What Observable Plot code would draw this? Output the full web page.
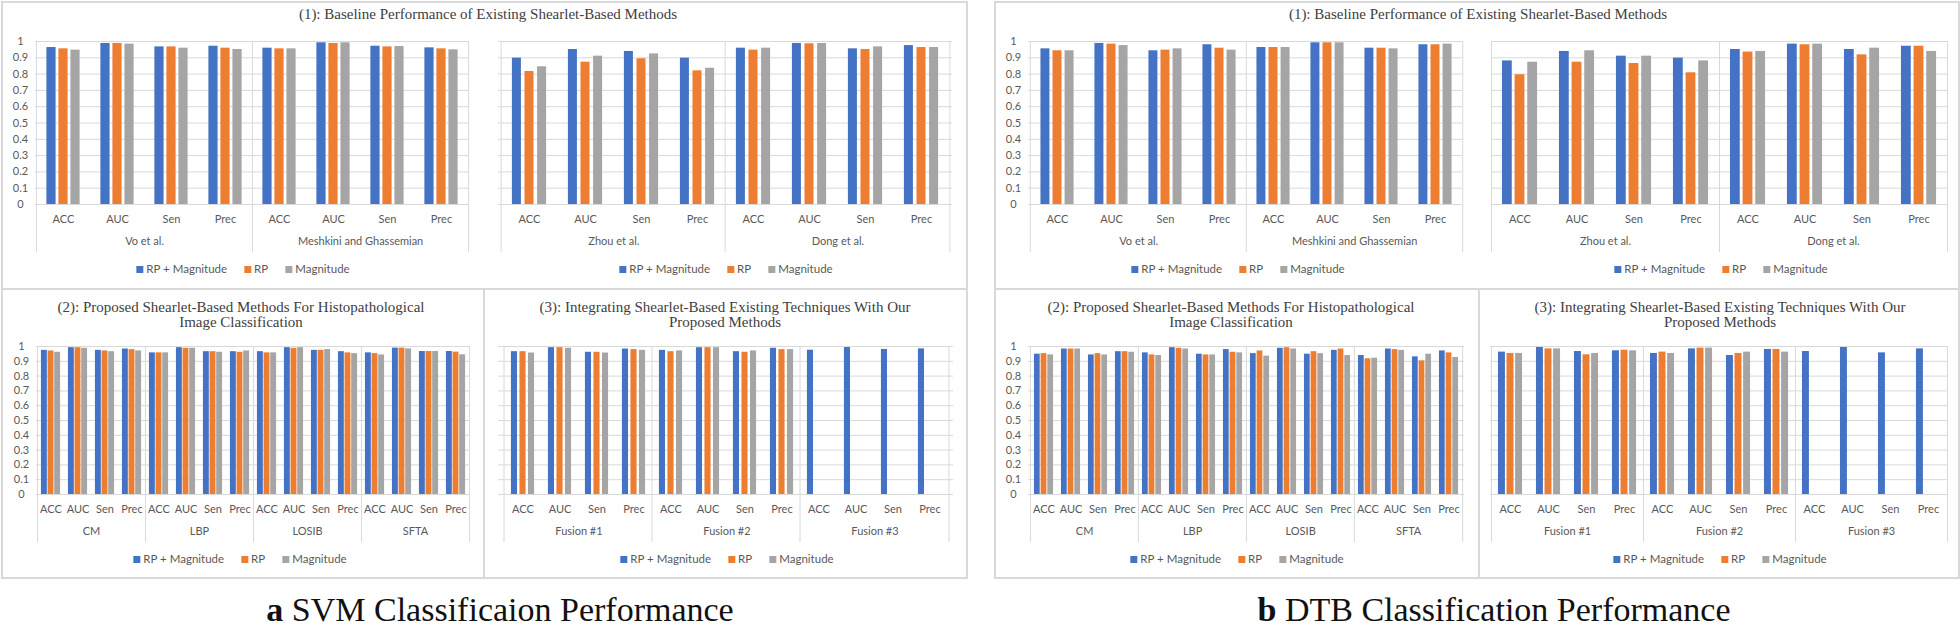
<!DOCTYPE html>
<html><head><meta charset="utf-8">
<script src="https://cdn.jsdelivr.net/npm/d3@7"></script>
<script src="https://cdn.jsdelivr.net/npm/@observablehq/plot@0.6"></script>
<style>
html,body{margin:0;padding:0;background:#fff}
body{width:1960px;height:628px;overflow:hidden;position:relative;font-family:Lato,"Open Sans",sans-serif}
.title{position:absolute;font-family:"Liberation Serif",serif;font-size:15px;color:#404040;text-align:center;line-height:15px;white-space:nowrap;transform:translateX(-50%)}
.legend{position:absolute;display:flex;align-items:center;font-size:11.5px;color:#595959;white-space:nowrap;transform:translate(-50%,-50%);line-height:14px}
.legend span.item{display:flex;align-items:center;margin-right:17px}
.legend span.item:last-child{margin-right:0}
.sw{display:inline-block;width:7px;height:7px;margin-right:3px}
.line{position:absolute;background:#d9d9d9}
.caption{position:absolute;font-family:"Liberation Serif",serif;font-size:34px;color:#111;white-space:nowrap;transform:translateX(-50%);line-height:40px;height:40px}
</style></head><body>
<script>
// ---------- data ----------
const metrics = ["ACC", "AUC", "Sen", "Prec"];
const seriesNames = ["RP + Magnitude", "RP", "Magnitude"];
const seriesColors = ["#4472C4", "#ED7D31", "#A5A5A5"];
const yTicks = [0, 0.1, 0.2, 0.3, 0.4, 0.5, 0.6, 0.7, 0.8, 0.9, 1];

const baselineGroupsA = ["Vo et al.", "Meshkini and Ghassemian"];
const baselineGroupsB = ["Zhou et al.", "Dong et al."];
const proposedGroups = ["CM", "LBP", "LOSIB", "SFTA"];
const fusionGroups = ["Fusion #1", "Fusion #2", "Fusion #3"];

// SVM
const svmBaseA_RPMag = [0.963, 0.988, 0.967, 0.971, 0.959, 0.992, 0.971, 0.961];
const svmBaseA_RP    = [0.955, 0.988, 0.967, 0.959, 0.955, 0.988, 0.967, 0.955];
const svmBaseA_Mag   = [0.947, 0.984, 0.959, 0.951, 0.955, 0.992, 0.969, 0.949];

const svmBaseB_RPMag = [0.898, 0.951, 0.939, 0.898, 0.959, 0.988, 0.955, 0.975];
const svmBaseB_RP    = [0.816, 0.873, 0.894, 0.820, 0.947, 0.986, 0.951, 0.963];
const svmBaseB_Mag   = [0.845, 0.910, 0.924, 0.836, 0.959, 0.988, 0.967, 0.963];

const svmProp_RPMag = [0.974, 0.992, 0.974, 0.983, 0.957, 0.992, 0.965, 0.965, 0.965, 0.992, 0.974, 0.965, 0.957, 0.989, 0.966, 0.966];
const svmProp_RP    = [0.970, 0.992, 0.970, 0.979, 0.957, 0.988, 0.965, 0.961, 0.957, 0.988, 0.974, 0.957, 0.952, 0.989, 0.966, 0.962];
const svmProp_Mag   = [0.961, 0.988, 0.965, 0.970, 0.957, 0.988, 0.961, 0.970, 0.957, 0.992, 0.979, 0.952, 0.943, 0.984, 0.966, 0.944];

const svmFus_RPMag = [0.965, 0.992, 0.961, 0.983, 0.974, 0.992, 0.965, 0.988, 0.975, 0.993, 0.980, 0.984];
const svmFus_RP    = [0.965, 0.992, 0.961, 0.979, 0.965, 0.992, 0.961, 0.979, null, null, null, null];
const svmFus_Mag   = [0.956, 0.988, 0.956, 0.974, 0.970, 0.992, 0.970, 0.979, null, null, null, null];

// DTB
const dtbBaseA_RPMag = [0.955, 0.988, 0.943, 0.980, 0.963, 0.992, 0.959, 0.980];
const dtbBaseA_RP    = [0.943, 0.984, 0.947, 0.959, 0.963, 0.992, 0.959, 0.980];
const dtbBaseA_Mag   = [0.943, 0.975, 0.955, 0.947, 0.963, 0.992, 0.955, 0.984];

const dtbBaseB_RPMag = [0.881, 0.939, 0.910, 0.898, 0.951, 0.984, 0.951, 0.971];
const dtbBaseB_RP    = [0.796, 0.873, 0.865, 0.808, 0.935, 0.980, 0.918, 0.971];
const dtbBaseB_Mag   = [0.873, 0.943, 0.910, 0.881, 0.939, 0.984, 0.959, 0.939];

const dtbProp_RPMag = [0.948, 0.983, 0.943, 0.965, 0.957, 0.992, 0.948, 0.979, 0.952, 0.988, 0.948, 0.974, 0.939, 0.983, 0.930, 0.970];
const dtbProp_RP    = [0.952, 0.983, 0.952, 0.965, 0.943, 0.988, 0.943, 0.961, 0.970, 0.992, 0.965, 0.983, 0.917, 0.979, 0.903, 0.957];
const dtbProp_Mag   = [0.943, 0.983, 0.943, 0.961, 0.939, 0.983, 0.943, 0.957, 0.935, 0.983, 0.952, 0.939, 0.921, 0.974, 0.948, 0.926];

const dtbFus_RPMag = [0.962, 0.993, 0.966, 0.971, 0.953, 0.984, 0.939, 0.980, 0.966, 0.993, 0.957, 0.984];
const dtbFus_RP    = [0.953, 0.984, 0.944, 0.975, 0.962, 0.989, 0.953, 0.980, null, null, null, null];
const dtbFus_Mag   = [0.953, 0.984, 0.953, 0.971, 0.953, 0.989, 0.962, 0.962, null, null, null, null];

// ---------- drawing ----------
const GRID = "#d9d9d9";
const ML = 40, MR = 3, MT = 6, MB = 58;
function fmtY(d) { return d === 0 ? "0" : d === 1 ? "1" : d.toFixed(1); }

function chart({groups, values, left, top, plotW, plotH, yAxis, slotFrac, barFrac}) {
  const rows = groups.flatMap((g, gi) => metrics.map((m, mi) => ({key: g + "|" + m, group: g, metric: m, idx: gi * metrics.length + mi})));
  const keys = rows.map(r => r.key);
  const data = rows.flatMap(r => seriesNames.map((s, si) => ({key: r.key, series: s, si, value: values[si][r.idx]})))
    .filter(d => d.value != null);
  const bw = plotW / keys.length;
  const slot = bw * slotFrac, barW = bw * barFrac;
  const padL = (bw - 2 * slot - barW) / 2;
  const marks = [Plot.gridY(yTicks, {stroke: GRID, strokeOpacity: 1, strokeWidth: 1})];
  seriesNames.forEach((s, si) => {
    marks.push(Plot.barY(data.filter(d => d.si === si), {
      x: "key", y: "value", fill: seriesColors[si],
      insetLeft: padL + si * slot, insetRight: bw - padL - si * slot - barW
    }));
  });
  marks.push(Plot.axisX({tickSize: 0, tickPadding: 11, label: null, tickFormat: k => k.split("|")[1], fontSize: 11, fill: "#595959"}));
  marks.push(Plot.ruleX(groups.map(g => g + "|" + metrics[0]), {dx: -bw / 2, stroke: GRID, strokeWidth: 1, insetBottom: -48}));
  marks.push(Plot.ruleX([keys[keys.length - 1]], {dx: bw / 2, stroke: GRID, strokeWidth: 1, insetBottom: -48}));
  marks.push(Plot.text(groups, {x: g => g + "|" + metrics[1], dx: bw / 2, frameAnchor: "bottom", dy: 40, text: d => d, fontSize: 11, fill: "#595959"}));
  if (yAxis) {
    marks.push(Plot.text(yTicks, {y: d => d, text: fmtY, frameAnchor: "left", dx: -15, textAnchor: "middle", fontSize: 11, fill: "#595959"}));
  }
  const svg = Plot.plot({
    width: plotW + ML + MR, height: plotH + MT + MB,
    marginLeft: ML, marginRight: MR, marginTop: MT, marginBottom: MB,
    x: {type: "band", domain: keys, padding: 0, axis: null, label: null},
    y: {domain: [0, 1], axis: null, label: null},
    style: {fontFamily: "Lato, 'Open Sans', sans-serif", fontSize: "11px", color: "#595959", background: "transparent", overflow: "visible"},
    marks
  });
  svg.style.position = "absolute";
  svg.style.left = (left - ML) + "px";
  svg.style.top = (top - MT) + "px";
  document.body.appendChild(svg);
}

function title(html, cx, top) {
  const d = document.createElement("div");
  d.className = "title"; d.innerHTML = html;
  d.style.left = cx + "px"; d.style.top = top + "px";
  document.body.appendChild(d);
}
function legend(cx, cy) {
  const d = document.createElement("div");
  d.className = "legend";
  d.style.left = cx + "px"; d.style.top = cy + "px";
  seriesNames.forEach((s, i) => {
    const it = document.createElement("span"); it.className = "item";
    const sw = document.createElement("span"); sw.className = "sw"; sw.style.background = seriesColors[i];
    it.appendChild(sw); it.appendChild(document.createTextNode(s));
    d.appendChild(it);
  });
  document.body.appendChild(d);
}
function line(x, y, w, h) {
  const d = document.createElement("div"); d.className = "line";
  Object.assign(d.style, {left: x + "px", top: y + "px", width: w + "px", height: h + "px"});
  document.body.appendChild(d);
}
function caption(html, cx, top) {
  const d = document.createElement("div"); d.className = "caption"; d.innerHTML = html;
  d.style.left = cx + "px"; d.style.top = top + "px";
  document.body.appendChild(d);
}

// panel frames
[[1, 966], [994, 1958]].forEach(([x0, x1]) => {
  line(x0, 1, x1 - x0, 1.5); line(x0, 577, x1 - x0, 1.5);
  line(x0, 1, 1.5, 577); line(x1, 1, 1.5, 577.5);
  line(x0, 288, x1 - x0, 1.5);
});
line(483, 288, 1.5, 289);
line(1478, 288, 1.5, 289);

const TOP = {top: 41, plotH: 163}, BOT = {top: 346, plotH: 148};
const topFr = {slotFrac: 0.222, barFrac: 0.172}, botFr = {slotFrac: 0.245, barFrac: 0.22}, fusFr = {slotFrac: 0.225, barFrac: 0.185};

// SVM (a)
chart({groups: baselineGroupsA, values: [svmBaseA_RPMag, svmBaseA_RP, svmBaseA_Mag], left: 35, plotW: 433, yAxis: true, ...TOP, ...topFr});
chart({groups: baselineGroupsB, values: [svmBaseB_RPMag, svmBaseB_RP, svmBaseB_Mag], left: 498, plotW: 454, yAxis: false, ...TOP, ...topFr});
chart({groups: proposedGroups, values: [svmProp_RPMag, svmProp_RP, svmProp_Mag], left: 36, plotW: 433, yAxis: true, ...BOT, ...botFr});
chart({groups: fusionGroups, values: [svmFus_RPMag, svmFus_RP, svmFus_Mag], left: 498, plotW: 455, yAxis: false, ...BOT, ...fusFr});
// DTB (b)
chart({groups: baselineGroupsA, values: [dtbBaseA_RPMag, dtbBaseA_RP, dtbBaseA_Mag], left: 1028, plotW: 435, yAxis: true, ...TOP, ...topFr});
chart({groups: baselineGroupsB, values: [dtbBaseB_RPMag, dtbBaseB_RP, dtbBaseB_Mag], left: 1491, plotW: 456, yAxis: false, ...TOP, ...topFr});
chart({groups: proposedGroups, values: [dtbProp_RPMag, dtbProp_RP, dtbProp_Mag], left: 1028, plotW: 436, yAxis: true, ...BOT, ...botFr});
chart({groups: fusionGroups, values: [dtbFus_RPMag, dtbFus_RP, dtbFus_Mag], left: 1490, plotW: 457, yAxis: false, ...BOT, ...fusFr});

// titles
title("(1): Baseline Performance of Existing Shearlet-Based Methods", 488, 7);
title("(1): Baseline Performance of Existing Shearlet-Based Methods", 1478, 7);
title("(2): Proposed Shearlet-Based Methods For Histopathological<br>Image Classification", 241, 300);
title("(3): Integrating Shearlet-Based Existing Techniques With Our<br>Proposed Methods", 725, 300);
title("(2): Proposed Shearlet-Based Methods For Histopathological<br>Image Classification", 1231, 300);
title("(3): Integrating Shearlet-Based Existing Techniques With Our<br>Proposed Methods", 1720, 300);

// legends
legend(243, 269); legend(726, 269); legend(1238, 269); legend(1721, 269);
legend(240, 559); legend(727, 559); legend(1237, 559); legend(1720, 559);

// captions
caption("<b>a</b> SVM Classificaion Performance", 500, 590);
caption("<b>b</b> DTB Classification Performance", 1494, 590);
</script>
</body></html>
